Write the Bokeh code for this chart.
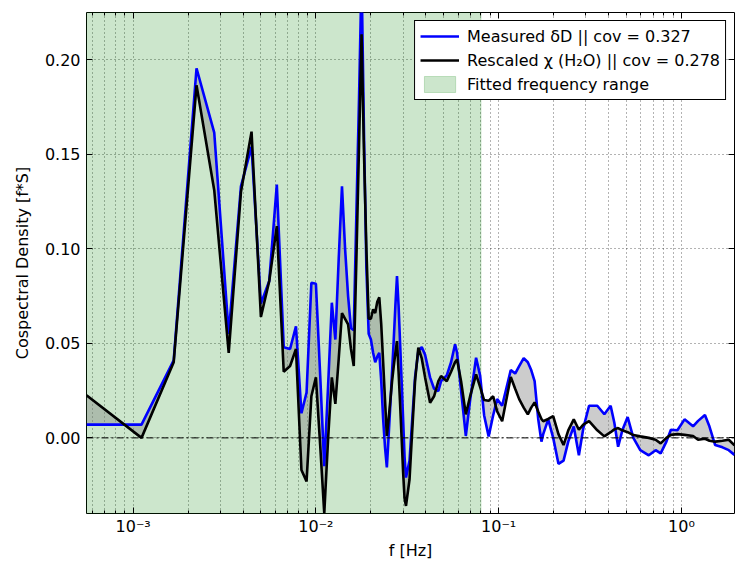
import numpy as np
from bokeh.plotting import figure
from bokeh.models import (Range1d, FixedTicker, SingleIntervalTicker, NumeralTickFormatter,
                          CustomJSTickFormatter, Span, Legend, LegendItem, LogAxis, LinearAxis)
from bokeh.embed import file_html
from bokeh.resources import INLINE

# ---------------- data ----------------
RECORD_SECONDS = 1800.0  # spectral bins at k / 1800 Hz
K_LOW = list(range(1, 57))
BLUE_LOW = [0.007, 0.007, 0.041, 0.1955, 0.1615, 0.055, 0.133, 0.154, 0.071, 0.083,
            0.134, 0.048, 0.047, 0.059, 0.013, 0.024, 0.082, 0.0815, 0.033, -0.015,
            0.028, 0.0715, 0.052, 0.095, 0.133, 0.100, 0.075, 0.058, 0.057, 0.120,
            0.180, 0.245, 0.160, 0.090, 0.055, 0.052, 0.045, 0.040, 0.043, 0.045,
            0.030, 0.010, -0.005, -0.0156, 0.001, 0.018, 0.035, 0.052, 0.070, 0.0856,
            0.070, 0.050, 0.030, 0.010, -0.010, -0.021]
BLACK_LOW = [0.0225, 0.000, 0.040, 0.1865, 0.131, 0.045, 0.130, 0.162, 0.064, 0.083,
             0.112, 0.035, 0.038, 0.047, -0.017, -0.023, 0.022, 0.032, -0.004, -0.040,
             0.000, 0.032, 0.018, 0.042, 0.066, 0.063, 0.060, 0.047, 0.038, 0.096,
             0.155, 0.2135, 0.150, 0.100, 0.063, 0.063, 0.068, 0.066, 0.072, 0.0743,
             0.060, 0.040, 0.020, 0.001, 0.010, 0.020, 0.030, 0.038, 0.045, 0.0512,
             0.035, 0.018, 0.000, -0.018, -0.032, -0.036]

F_HIGH = [0.03253, 0.03357, 0.03487, 0.03635, 0.03795, 0.03957, 0.04214, 0.04432, 0.04678,
          0.04840, 0.05201, 0.05490, 0.05774, 0.05922, 0.06228, 0.06611, 0.06979, 0.07525,
          0.07914, 0.08323, 0.08815, 0.09331, 0.09813, 0.1045, 0.1165, 0.1231, 0.1295,
          0.1371, 0.1444, 0.1507, 0.1573, 0.1646, 0.1714, 0.1753, 0.1867, 0.1988, 0.2124,
          0.2265, 0.2403, 0.2576, 0.2748, 0.2904, 0.3124, 0.3465, 0.3786, 0.4099, 0.4295,
          0.4505, 0.4750, 0.5080, 0.5458, 0.5955, 0.6629, 0.7224, 0.7700, 0.8276, 0.8760,
          0.9508, 1.040, 1.158, 1.234, 1.345, 1.424, 1.530, 1.678, 1.816, 1.952]
BLUE_HIGH = [-0.012, 0.008, 0.032, 0.046, 0.048, 0.044, 0.032, 0.026, 0.0248,
             0.030, 0.033, 0.040, 0.0495, 0.045, 0.025, 0.001, 0.020, 0.0424,
             0.033, 0.012, 0.0008, 0.012, 0.0205, 0.017, 0.0359, 0.034, 0.038,
             0.0422, 0.040, 0.0359, 0.030, 0.010, -0.002, 0.002, 0.0098, 0.000, -0.0137,
             -0.012, -0.002, 0.006, -0.0092, 0.005, 0.017, 0.017, 0.0125, 0.017, 0.008,
             -0.0047, 0.004, 0.011, 0.000, -0.0065, -0.0092, -0.0065, -0.0082, -0.002, 0.0043,
             0.004, 0.0098, 0.0061, 0.009, 0.0121, 0.006, -0.0038, -0.005, -0.0065, -0.009]
BLACK_HIGH = [-0.022, 0.002, 0.030, 0.0477, 0.042, 0.032, 0.0186, 0.022, 0.030,
              0.0327, 0.030, 0.035, 0.040, 0.0415, 0.030, 0.0124, 0.022, 0.0336,
              0.027, 0.020, 0.0196, 0.022, 0.014, 0.0088, 0.0322, 0.026, 0.0205,
              0.016, 0.0124, 0.016, 0.0188, 0.014, 0.010, 0.0088, 0.010, 0.0115, 0.002,
              -0.0038, 0.004, 0.0098, 0.0043, 0.007, 0.0088, 0.004, 0.0008, 0.003, 0.0045,
              0.0052, 0.004, 0.003, 0.0015, 0.0008, 0.000, -0.001, -0.0029, 0.000, 0.0016,
              0.002, 0.0016, 0.001, -0.001, -0.0005, -0.0015, -0.002, -0.0015, -0.001, -0.004]

FIT_RANGE = (1.0 / 1800.0, 0.08)
X_RANGE = (1.0 / 1800.0, 1.952)
Y_RANGE = (-0.040, 0.225)
X_MAJOR = [1e-3, 1e-2, 1e-1, 1.0]
X_MINOR = [m * 10.0 ** e for e in range(-4, 1) for m in range(2, 10)]
LABEL_BLUE = "Measured δD || cov = 0.327"
LABEL_BLACK = "Rescaled χ (H₂O) || cov = 0.278"
LABEL_FIT = "Fitted frequency range"
X_LABEL = "f [Hz]"
Y_LABEL = "Cospectral Density [f*S]"

freq = np.concatenate([np.array(K_LOW) / RECORD_SECONDS, np.array(F_HIGH)])
blue = np.concatenate([BLUE_LOW, BLUE_HIGH])
black = np.concatenate([BLACK_LOW, BLACK_HIGH])

FONT = "DejaVu Sans"
FS = "16px"

p = figure(x_axis_type="log", output_backend="svg", toolbar_location=None,
           width=740, height=562,
           min_border_left=86, min_border_right=6, min_border_top=12, min_border_bottom=46,
           x_range=Range1d(*X_RANGE), y_range=Range1d(*Y_RANGE))
p.background_fill_color = "white"
p.border_fill_color = "white"
p.outline_line_color = "black"
p.outline_line_width = 1
p.outline_line_alpha = 1.0

xt = FixedTicker(ticks=X_MAJOR, minor_ticks=X_MINOR)
yt = SingleIntervalTicker(interval=0.05, num_minor_ticks=0)

sup_js = """
const sup = {'-':'\u207b','0':'\u2070','1':'\u00b9','2':'\u00b2','3':'\u00b3','4':'\u2074','5':'\u2075','6':'\u2076','7':'\u2077','8':'\u2078','9':'\u2079'};
const e = Math.round(Math.log10(tick));
return '10' + String(e).split('').map(c => sup[c]).join('');
"""

xa = p.xaxis[0]
xa.ticker = xt
xa.formatter = CustomJSTickFormatter(code=sup_js)
ya = p.yaxis[0]
ya.ticker = yt
ya.formatter = NumeralTickFormatter(format="0.00")

for ax in (xa, ya):
    ax.axis_line_color = None
    ax.major_tick_in = 6
    ax.major_tick_out = 0
    ax.minor_tick_in = 3
    ax.minor_tick_out = 0
    ax.major_tick_line_color = "black"
    ax.minor_tick_line_color = "black"
    ax.major_label_text_font = FONT
    ax.major_label_text_font_size = FS
    ax.major_label_text_color = "black"
    ax.axis_label_text_font = FONT
    ax.axis_label_text_font_size = FS
    ax.axis_label_text_font_style = "normal"
    ax.axis_label_text_color = "black"
ya.minor_tick_line_color = None
xa.axis_label = X_LABEL
ya.axis_label = Y_LABEL
xa.major_label_standoff = 3
ya.major_label_standoff = 6
xa.axis_label_standoff = 2
ya.axis_label_standoff = 10

top = LogAxis(ticker=xt, formatter=CustomJSTickFormatter(code="return ' ';"),
              major_label_text_font_size="4px", major_label_standoff=0,
              major_label_text_color=None,
              axis_line_color=None, major_tick_in=6, major_tick_out=0,
              minor_tick_in=3, minor_tick_out=0)
right = LinearAxis(ticker=yt, formatter=CustomJSTickFormatter(code="return ' ';"),
                   major_label_text_font_size="4px", major_label_standoff=0,
                   major_label_text_color=None,
                   axis_line_color=None, major_tick_in=6, major_tick_out=0,
                   minor_tick_line_color=None)
p.add_layout(top, "above")
p.add_layout(right, "right")

p.xgrid.ticker = xt
p.ygrid.ticker = yt
for g in (p.xgrid[0], p.ygrid[0]):
    g.grid_line_color = "black"
    g.grid_line_width = 1
    g.grid_line_alpha = 0.6
    g.grid_line_dash = "1 3"
p.xgrid.minor_grid_line_color = "black"
p.xgrid.minor_grid_line_alpha = 0.6
p.xgrid.minor_grid_line_dash = "1 3"

fit_r = p.quad(left=[FIT_RANGE[0]], right=[FIT_RANGE[1]], bottom=[Y_RANGE[0]], top=[Y_RANGE[1]],
               fill_color="green", fill_alpha=0.2, line_color="green", line_alpha=0.2)
p.varea(x=freq, y1=blue, y2=black, fill_color="grey", fill_alpha=0.4)
zero = Span(location=0, dimension="width", line_color="black", line_width=1, line_dash="7 3 2 3")
p.add_layout(zero)
blue_r = p.line(freq, blue, line_color="blue", line_width=2.6)
black_r = p.line(freq, black, line_color="black", line_width=2.6)

legend = Legend(items=[LegendItem(label=LABEL_BLUE, renderers=[blue_r]),
                       LegendItem(label=LABEL_BLACK, renderers=[black_r]),
                       LegendItem(label=LABEL_FIT, renderers=[fit_r])],
                location="top_right")
legend.label_text_font = FONT
legend.label_text_font_size = FS
legend.label_text_color = "black"
legend.glyph_width = 39
legend.glyph_height = 20
legend.label_height = 20
legend.spacing = 4
legend.padding = 5
legend.margin = 8
legend.label_standoff = 8
legend.border_line_color = "black"
legend.border_line_width = 1
legend.border_line_alpha = 1.0
legend.background_fill_color = "white"
legend.background_fill_alpha = 1.0
p.add_layout(legend)

open("out.html", "w").write(file_html(p, INLINE))
